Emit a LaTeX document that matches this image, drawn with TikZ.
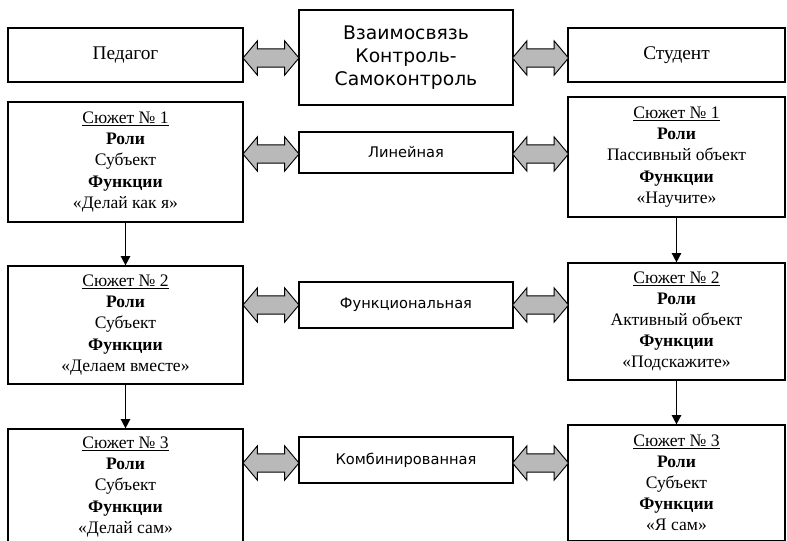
\documentclass[tikz,border=0pt]{standalone}
\usepackage{fontspec}
\setmainfont{Liberation Serif}
\newfontfamily\dvsans{DejaVu Sans}
\usetikzlibrary{shapes.arrows,arrows.meta}
\tikzset{
  head/.style={draw, line width=1pt, inner sep=0pt, minimum height=1.62cm, font=\fontsize{16.5}{19}\selectfont},
  mainbox/.style={draw, line width=1pt, inner sep=0pt, align=center, minimum width=6.42cm, minimum height=2.85cm, font=\dvsans\fontsize{16}{19.5}\selectfont},
  plot/.style={draw, line width=1pt, inner sep=0pt, align=center, font=\fontsize{15}{18}\selectfont},
  link/.style={draw, line width=1pt, inner sep=0pt, minimum width=6.42cm, font=\dvsans\fontsize{12.5}{15}\selectfont},
  fatarrow/.style={double arrow, draw, fill=gray!55, line width=0.8pt, inner xsep=0pt, inner ysep=0.26cm, minimum height=1.68cm, double arrow head extend=0.24cm, double arrow tip angle=100},
  ptr/.style={line width=1.3pt, -{Triangle[length=8pt,width=8pt]}}
}
\begin{document}
\begin{tikzpicture}[x=0.03cm,y=-0.03cm]
\useasboundingbox (0,0) rectangle (787,541);

\node[head, minimum width=7.05cm] (ped) at (125.5,55) {Педагог};
\node[mainbox] (vz) at (406,57.5) {Взаимосвязь\\Контроль-\\Самоконтроль};
\node[head, minimum width=6.51cm] (stud) at (676.5,55) {Студент};

\node[plot, minimum width=7.05cm, minimum height=3.6cm] (l1) at (125.5,162)
  {\underline{Сюжет № 1}\\\textbf{Роли}\\Субъект\\\textbf{Функции}\\«Делай как я»};
\node[link, minimum height=1.23cm] (m1) at (406,152.5) {Линейная};
\node[plot, minimum width=6.51cm, minimum height=3.6cm] (r1) at (676.5,157)
  {\underline{Сюжет № 1}\\\textbf{Роли}\\Пассивный объект\\\textbf{Функции}\\«Научите»};

\node[plot, minimum width=7.05cm, minimum height=3.54cm] (l2) at (125.5,325)
  {\underline{Сюжет № 2}\\\textbf{Роли}\\Субъект\\\textbf{Функции}\\«Делаем вместе»};
\node[link, minimum height=1.38cm] (m2) at (406,305) {Функциональная};
\node[plot, minimum width=6.51cm, minimum height=3.51cm] (r2) at (676.5,321.5)
  {\underline{Сюжет № 2}\\\textbf{Роли}\\Активный объект\\\textbf{Функции}\\«Подскажите»};

\node[plot, minimum width=7.05cm, minimum height=3.48cm] (l3) at (125.5,487)
  {\underline{Сюжет № 3}\\\textbf{Роли}\\Субъект\\\textbf{Функции}\\«Делай сам»};
\node[link, minimum height=1.38cm] (m3) at (406,460) {Комбинированная};
\node[plot, minimum width=6.51cm, minimum height=3.48cm] (r3) at (676.5,483)
  {\underline{Сюжет № 3}\\\textbf{Роли}\\Субъект\\\textbf{Функции}\\«Я сам»};

% double arrows
\node[fatarrow] (a0) at (271,58) {};
\node[fatarrow] (b0) at (540.5,58) {};
\node[fatarrow] (a1) at (271,154) {};
\node[fatarrow] (b1) at (540.5,154) {};
\node[fatarrow] (a2) at (271,305) {};
\node[fatarrow] (b2) at (540.5,305) {};
\node[fatarrow] (a3) at (271,463) {};
\node[fatarrow] (b3) at (540.5,463) {};

\draw[ptr] (l1) -- (l2);
\draw[ptr] (l2) -- (l3);
\draw[ptr] (r1) -- (r2);
\draw[ptr] (r2) -- (r3);
\end{tikzpicture}
\end{document}
